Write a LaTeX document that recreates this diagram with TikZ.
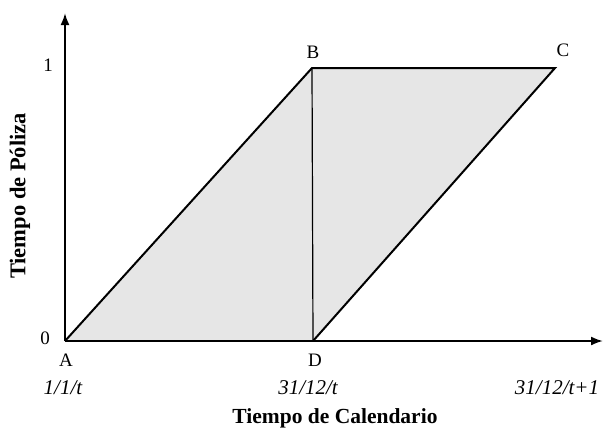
\documentclass[tikz,border=0pt]{standalone}
\usepackage{fontspec}
\setmainfont{Liberation Serif}
\usetikzlibrary{arrows.meta}
\definecolor{areagray}{RGB}{230,230,230}
\tikzset{
  axisline/.style={line width=2pt,-{Latex[length=12pt,width=9pt]}},
  edge/.style={line width=2pt},
  thinedge/.style={line width=1.2pt},
  ptlabel/.style={font=\fontsize{19}{19}\selectfont,inner sep=0pt},
  datelabel/.style={font=\fontsize{21}{21}\selectfont\itshape,inner sep=0pt},
  axistitle/.style={font=\fontsize{21.5}{21.5}\selectfont\bfseries,inner sep=0pt},
  ytitle/.style={font=\fontsize{22.5}{22.5}\selectfont\bfseries,inner sep=0pt}
}
\begin{document}
\begin{tikzpicture}[x=1pt,y=-1pt]
\useasboundingbox (0,0) rectangle (605,429);
\coordinate (A) at (65,341);
\coordinate (B) at (312,68);
\coordinate (C) at (555,68);
\coordinate (D) at (313,341);
\coordinate (xend) at (603,341);
\coordinate (yend) at (65,13);
\fill[areagray] (A) -- (B) -- (C) -- (D) -- cycle;
\draw[axisline] (A) -- (xend);
\draw[axisline] (A) -- (yend);
\draw[edge,line join=miter] (A) -- (B) -- (C) -- (D);
\draw[thinedge] (B) -- (D);
\node[ptlabel] (zero) at (45,338) {0};
\node[ptlabel] (one) at (48,65) {1};
\node[ptlabel] (lA) at (66,360) {A};
\node[ptlabel] (lD) at (315,360) {D};
\node[ptlabel] (lB) at (313,52) {B};
\node[ptlabel] (lC) at (563,50) {C};
\node[datelabel] (d1) at (63,388) {1/1/t};
\node[datelabel] (d2) at (308,388) {31/12/t};
\node[datelabel] (d3) at (557,388) {31/12/t+1};
\node[axistitle] (xt) at (335,418) {Tiempo de Calendario};
\node[ytitle,rotate=90] (yt) at (20,196) {Tiempo de Póliza};
\end{tikzpicture}
\end{document}
